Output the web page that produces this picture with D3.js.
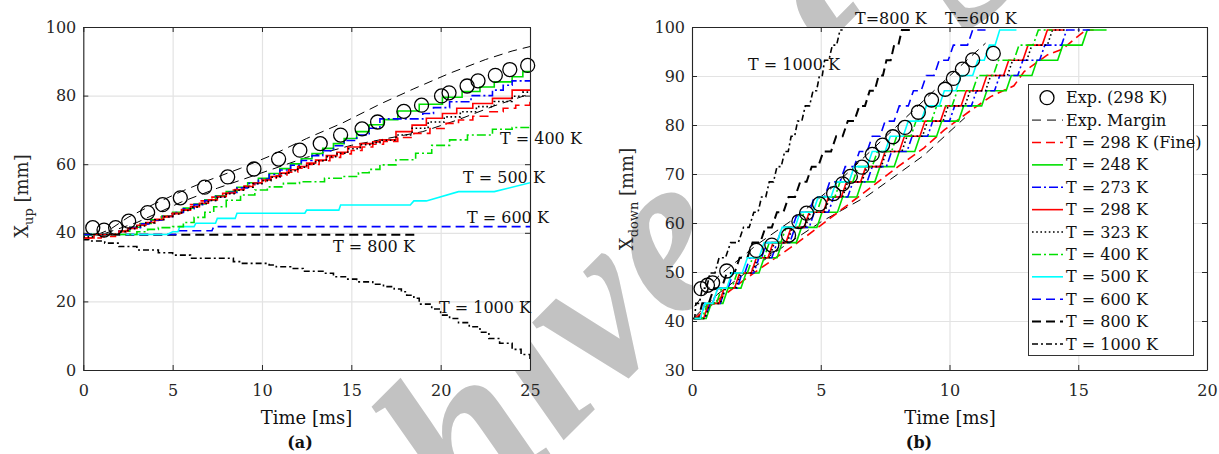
<!DOCTYPE html>
<html>
<head>
<meta charset="utf-8">
<script src="https://cdn.jsdelivr.net/npm/d3@7"></script>
<style>
  html, body { margin: 0; padding: 0; background: #fff; }
  svg { display: block; font-family: "DejaVu Serif", serif; }
</style>
</head>
<body>
<script>
// ---------- Panel (a): upstream flame position X_up vs time ----------
const aTicksX = [0, 5, 10, 15, 20, 25];
const aTicksY = [0, 20, 40, 60, 80, 100];

const aExpTime = [0.53,1.16,1.81,2.54,3.60,4.44,5.43,6.79,8.08,9.55,10.93,12.12,13.26,14.40,15.60,16.47,17.94,18.93,20.05,20.47,21.48,22.09,23.06,23.87,24.87];
const aExpVal  = [41.5,40.8,41.5,43.4,45.9,48.2,50.2,53.3,56.3,58.6,61.5,64.1,66.0,68.5,70.3,72.3,75.4,77.2,79.9,80.8,82.8,84.3,85.9,87.6,88.8];

const aMarginUpTime = [0.8,1.5,2.5,4.0,5.6,7.0,8.8,10.5,12.5,14.5,16.6,18.5,20.5,22.5,24.0,25];
const aMarginUpVal  = [39.5,41.0,44.5,48.5,52.3,55.3,58.8,62.5,67.5,72.0,77.5,82.0,86.5,90.5,93.0,94.3];
const aMarginLoTime = [1.2,3.0,5.5,7.5,10.0,12.5,15.0,17.0,19.0,21.0,23.0,25];
const aMarginLoVal  = [39.8,43.0,49.0,53.0,57.5,62.0,65.5,67.5,69.5,73.0,77.0,80.5];

const aFineTime = [0,1.0,1.8,2.4,3.0,3.6,4.2,4.8,5.4,6.0,6.6,7.2,7.8,8.4,9.0,9.6,10.2,10.8,11.4,12.0,12.6,13.2,13.8,14.4,15.0,15.6,16.2,16.8,17.6,18.5,19.4,20.3,21.0,21.8,22.7,23.5,24.2,25];
const aFineVal  = [38.5,38.9,40.3,41.5,42.6,43.6,44.6,45.6,46.8,48.2,49.3,50.4,51.5,52.5,53.6,54.6,55.6,56.6,57.7,58.8,59.9,61.0,62.0,63.0,64.0,65.0,65.8,66.6,67.8,69.0,70.4,71.9,72.9,74.0,75.3,76.3,77.2,78.2];

const a248Time = [0,2.0,2.6,3.2,3.8,4.4,5.0,5.6,6.2,6.8,7.4,8.0,8.6,9.2,9.8,10.4,11.0,11.6,12.2,12.8,13.4,14.0,14.6,15.3,16.0,16.8,17.6,18.8,20.1,21.2,22.2,23.0,24.0,24.6,25];
const a248Val  = [39.5,40.5,41.6,42.7,43.8,44.9,46.0,47.2,48.4,49.6,50.8,52.0,53.3,54.6,55.9,57.3,58.7,60.1,61.6,63.1,64.6,66.0,67.5,69.5,71.5,73.0,75.5,77.5,79.5,81.2,82.5,84.0,85.5,87.0,87.0];

const a273Time = [0,2.0,2.6,3.2,3.8,4.4,5.0,5.6,6.2,6.8,7.4,8.0,8.6,9.2,9.8,10.4,11.0,11.6,12.2,12.8,13.4,14.0,14.6,15.3,16.0,16.6,19.0,19.6,20.5,21.7,22.9,23.5,24.0,25];
const a273Val  = [39.5,40.5,41.5,42.6,43.7,44.8,45.9,47.0,48.2,49.4,50.6,51.8,53.1,54.4,55.7,57.0,58.3,59.7,61.1,62.5,63.9,65.4,66.9,68.5,70.5,73.2,74.8,76.5,78.2,80.0,81.6,83.0,84.3,84.3];

const a298Time = [0,0.6,2.0,2.5,3.0,3.5,4.0,4.5,5.0,5.5,6.0,6.5,7.0,7.5,8.0,8.5,9.0,9.5,10.0,10.5,11.0,11.5,12.0,12.5,13.0,13.6,14.2,14.8,15.5,16.2,16.6,17.5,18.4,19.2,20.1,20.9,21.8,22.9,24.0,25];
const a298Val  = [38.5,39.5,40.5,41.3,42.2,43.0,43.9,44.8,45.7,46.6,47.6,48.6,49.6,50.6,51.6,52.6,53.5,54.5,55.4,56.4,57.4,58.4,59.3,60.3,61.2,62.5,63.5,65.0,66.0,66.5,67.1,69.5,71.4,73.4,74.8,76.3,77.7,79.2,81.6,81.6];

const a323Time = [0,0.6,2.0,2.5,3.0,3.5,4.0,4.5,5.0,5.5,6.0,6.5,7.0,7.5,8.0,8.5,9.0,9.5,10.0,10.5,11.0,11.5,12.0,12.5,13.0,13.6,14.2,14.8,15.5,16.2,16.6,17.5,18.4,19.3,20.2,21.1,22.0,23.0,24.0,24.6,25];
const a323Val  = [38.8,39.5,40.3,41.2,42.0,42.9,43.8,44.7,45.5,46.5,47.5,48.5,49.4,50.4,51.4,52.4,53.3,54.3,55.2,56.2,57.2,58.1,59.1,60.0,61.0,62.2,63.2,64.5,65.7,66.3,67.0,68.5,70.5,72.3,73.8,75.3,76.8,78.3,79.8,81.0,81.0];

const a400Time = [0,3.0,3.6,4.2,5.0,5.6,6.2,6.8,7.3,8.0,8.8,9.6,10.3,11.2,12.1,13.5,14.5,15.4,16.0,16.6,17.5,18.6,19.5,20.5,21.5,22.9,24.0,25];
const a400Val  = [39.5,40.3,41.0,41.5,41.8,43.0,44.5,46.0,47.6,49.5,51.0,52.5,53.4,54.4,54.9,55.9,56.4,57.5,58.5,59.8,61.3,63.2,65.5,67.1,68.5,70.2,70.7,71.4];

const a500Time = [0,4.7,5.0,5.3,5.4,6.2,6.3,7.4,7.5,8.5,8.6,12.4,12.5,14.3,14.4,18.3,18.5,19.2,21.0,23.0,25];
const a500Val  = [39.5,39.5,40.3,40.3,41.8,41.8,42.8,42.8,44.2,44.2,45.7,45.7,46.6,46.6,48.1,48.1,49.3,49.3,52.0,52.0,54.6];

const a600Time = [0,5.2,5.25,7.2,7.3,25];
const a600Val  = [39.5,39.5,40.6,40.6,41.8,41.8];

const a800Time = [0,18.8];
const a800Val  = [39.4,39.4];

const a1000Time = [0,0.3,1.2,2.0,3.0,4.2,5.0,6.0,8.4,8.8,10.4,10.8,11.6,12.3,13.5,14.0,14.8,15.3,16.2,16.8,17.4,17.8,18.1,18.5,18.8,19.5,20.0,20.5,21.0,21.6,22.2,22.7,23.3,24.0,24.5,25];
const a1000Val  = [38.0,37.6,37.0,36.0,35.0,34.2,33.5,32.6,31.6,31.1,30.6,30.1,29.6,28.8,28.2,27.2,26.5,25.7,25.0,24.3,23.6,22.8,21.8,20.9,19.2,17.8,16.0,15.0,13.8,12.6,11.0,9.2,7.8,6.0,4.5,2.9];

// ---------- Panel (b): downstream flame position X_down vs time ----------
const bTicksX = [0, 5, 10, 15, 20];
const bTicksY = [30, 40, 50, 60, 70, 80, 90, 100];

const bExpTime = [0.35,0.6,0.8,1.35,2.5,3.1,3.75,4.15,4.45,4.95,5.5,5.85,6.15,6.6,7.0,7.4,7.8,8.27,8.79,9.3,9.83,10.15,10.5,10.9,11.7];
const bExpVal  = [46.6,47.3,47.8,50.2,54.4,55.5,57.5,60.3,62.0,63.9,66.0,68.0,69.5,71.4,74.0,75.9,77.6,79.5,82.6,85.1,87.3,89.5,91.4,93.3,94.6];

const bMarginUpTime = [0.1,1.0,2.5,4.0,5.5,7.0,8.5,10.0,11.4];
const bMarginUpVal  = [43.0,49.0,55.5,61.0,67.5,75.0,82.5,90.0,96.7];
const bMarginLoTime = [0.1,1.0,2.0,3.5,5.0,6.8,8.0,9.0,10.6];
const bMarginLoVal  = [40.8,45.5,49.5,55.0,60.2,65.5,70.0,73.8,81.5];

const bFineTime = [0.1,1.0,2.0,3.0,4.0,5.0,6.0,7.0,8.0,9.0,9.8,10.7,11.6,12.5,12.9,13.8,14.4,14.8,15.3,15.6];
const bFineVal  = [40.5,44.3,48.3,52.0,55.6,59.5,63.5,67.5,71.5,75.3,79.0,82.5,85.8,88.0,90.9,94.3,95.5,97.3,99.4,99.4];

// mesh-cell positions the coarse simulations jump between
const bLevels = [40.5,43.6,46.7,49.8,52.9,56.0,59.1,62.2,65.3,68.4,71.5,74.6,77.7,80.8,83.9,87.0,90.1,93.2,96.3,99.4];
// time [ms] at which each simulation reaches each level, and the time its record ends
const b248Reach  = [0.1,0.75,1.4,2.1,2.8,3.5,4.25,5.05,5.85,6.6,7.3,8.05,8.85,9.7,10.55,11.45,12.4,13.4,14.4,15.35];
const b273Reach  = [0.1,0.7,1.3,1.95,2.6,3.3,4.0,4.75,5.5,6.25,7.0,7.75,8.55,9.35,10.2,11.05,11.95,12.85,13.7,14.55];
const b298Reach  = [0.1,0.65,1.25,1.85,2.5,3.15,3.85,4.55,5.3,6.0,6.75,7.5,8.25,9.05,9.85,10.65,11.45,12.3,13.05,13.8];
const b323Reach  = [0.1,0.7,1.3,1.9,2.55,3.2,3.9,4.6,5.35,6.05,6.8,7.55,8.35,9.15,9.95,10.8,11.6,12.45,13.2,14.0];
const b400Reach  = [0.1,0.6,1.15,1.75,2.35,3.0,3.65,4.35,5.05,5.75,6.45,7.2,7.95,8.7,9.5,10.3,11.1,11.9,12.7,13.45];
const b500Reach  = [0.1,0.5,1.0,1.55,2.15,2.8,3.5,4.2,4.9,5.6,6.3,7.0,7.7,8.4,9.1,9.8,10.45,11.1,11.55,11.95];
const b600Reach  = [0.1,0.5,1.0,1.6,2.25,2.9,3.5,4.1,4.75,5.35,5.95,6.5,7.0,7.5,8.05,8.6,9.1,9.6,10.15,10.9];
const b800Reach  = [0.05,0.4,0.85,1.35,1.85,2.35,2.85,3.3,3.75,4.2,4.65,5.1,5.6,6.05,6.5,6.9,7.25,7.55,7.85,8.15];
const b1000Reach = [0.05,0.15,0.4,0.7,1.05,1.5,2.0,2.4,2.7,3.0,3.3,3.6,3.85,4.1,4.4,4.7,4.95,5.15,5.45,5.75];
const bEnd = {t248: 16.1, t273: 15.45, t298: 14.45, t323: 14.5, t400: 14.0, t500: 12.6, t600: 11.4, t800: 8.5, t1000: 5.85};

const legendLabels = ["Exp. (298 K)","Exp. Margin","T = 298 K (Fine)","T = 248 K","T = 273 K","T = 298 K","T = 323 K","T = 400 K","T = 500 K","T = 600 K","T = 800 K","T = 1000 K"];

// ---------- styles ----------
const GREEN = "#00e000", BLUE = "#0000ff", RED = "#ff0000", CYAN = "#00ffff", BLACK = "#000";
const DASH = "9,5", DASHDOT = "9,3,2,3", DOT = "1.6,2.6", DASHDOT2 = "6,3,2,3";
const style = {
  margin: {stroke: BLACK, w: 1.0, dash: "9,6"},
  fine:   {stroke: RED,   w: 1.6, dash: DASH},
  t248:   {stroke: GREEN, w: 1.6, dash: null},
  t273:   {stroke: BLUE,  w: 1.6, dash: DASHDOT},
  t298:   {stroke: RED,   w: 1.6, dash: null},
  t323:   {stroke: BLACK, w: 1.6, dash: DOT},
  t400:   {stroke: GREEN, w: 1.6, dash: DASHDOT},
  t500:   {stroke: CYAN,  w: 1.6, dash: null},
  t600:   {stroke: BLUE,  w: 1.6, dash: DASH},
  t800:   {stroke: BLACK, w: 2.0, dash: DASH},
  t1000:  {stroke: BLACK, w: 1.6, dash: DASHDOT2}
};

const W = 1219, H = 454;
const FONT = 16, TITLE = 18;
const svg = d3.select("body").append("svg").attr("width", W).attr("height", H);

// faint watermark lettering behind the axes
svg.append("text")
  .attr("transform", "translate(225,779) rotate(-45)")
  .attr("font-family", "Liberation Serif, serif")
  .attr("font-style", "italic")
  .attr("font-weight", "bold")
  .attr("font-size", 230)
  .attr("fill", "#c2c2c2")
  .text("Archive of SID");

const zip = (ts, vs) => ts.map((t, i) => [t, vs[i]]);

function makePanel(id, x, y, ticksX, ticksY) {
  const [x0, x1] = x.range(), [y0, y1] = y.range();
  const g = svg.append("g");
  g.append("rect").attr("x", x0).attr("y", y1).attr("width", x1 - x0).attr("height", y0 - y1).attr("fill", "#fff");
  // grid
  const grid = g.append("g").attr("class", "grid");
  grid.append("g").attr("transform", `translate(0,${y0})`)
    .call(d3.axisBottom(x).tickValues(ticksX).tickSize(-(y0 - y1)).tickFormat(""));
  grid.append("g").attr("transform", `translate(${x0},0)`)
    .call(d3.axisLeft(y).tickValues(ticksY).tickSize(-(x1 - x0)).tickFormat(""));
  grid.selectAll(".domain").remove();
  grid.selectAll("line").attr("stroke", "#e3e3e3").attr("stroke-width", 1.2);
  g.append("clipPath").attr("id", id).append("rect")
    .attr("x", x0).attr("y", y1).attr("width", x1 - x0).attr("height", y0 - y1);
  const plot = g.append("g").attr("clip-path", `url(#${id})`);
  const over = g.append("g");
  return {g, plot, over, x, y};
}

function drawAxes(p, ticksX, ticksY) {
  const {g, x, y} = p;
  const [x0, x1] = x.range(), [y0, y1] = y.range();
  const ax = g.append("g").attr("class", "axes");
  ax.append("g").attr("transform", `translate(0,${y0})`)
    .call(d3.axisBottom(x).tickValues(ticksX).tickSizeInner(-5).tickSizeOuter(0).tickPadding(15));
  ax.append("g").attr("transform", `translate(${x0},0)`)
    .call(d3.axisLeft(y).tickValues(ticksY).tickSizeInner(-5).tickSizeOuter(0).tickPadding(7));
  ax.append("g").attr("transform", `translate(0,${y1})`)
    .call(d3.axisTop(x).tickValues(ticksX).tickSizeInner(-5).tickSizeOuter(0).tickFormat(""));
  ax.append("g").attr("transform", `translate(${x1},0)`)
    .call(d3.axisRight(y).tickValues(ticksY).tickSizeInner(-5).tickSizeOuter(0).tickFormat(""));
  ax.selectAll(".domain").attr("stroke", "#262626").attr("stroke-width", 1.1);
  ax.selectAll(".tick line").attr("stroke", "#262626").attr("stroke-width", 1);
  ax.selectAll(".tick text").attr("font-family", "DejaVu Serif, serif").attr("font-size", FONT).attr("fill", "#262626");
}

function drawLine(p, pts, st, curve) {
  const line = d3.line().x(d => p.x(d[0])).y(d => p.y(d[1])).curve(curve || d3.curveLinear);
  p.plot.append("path").datum(pts)
    .attr("d", line)
    .attr("fill", "none")
    .attr("stroke", st.stroke)
    .attr("stroke-width", st.w)
    .attr("stroke-dasharray", st.dash)
    .attr("stroke-linejoin", "miter");
}

function drawCircles(p, pts) {
  p.over.append("g").selectAll("circle").data(pts).join("circle")
    .attr("cx", d => p.x(d[0])).attr("cy", d => p.y(d[1])).attr("r", 7)
    .attr("fill", "none").attr("stroke", "#000").attr("stroke-width", 1.3);
}

// staircase through the mesh levels: each level held until the next is reached, with a short riser
const RISER = 0.2;
function stairs(reach, endT) {
  const pts = [];
  reach.forEach((t, k) => {
    pts.push([t, bLevels[k]]);
    const nxt = reach[k + 1];
    pts.push([nxt === undefined ? endT : nxt - Math.min(RISER, 0.45 * (nxt - t)), bLevels[k]]);
  });
  return pts;
}

function label(txt, x, y, anchor, size, weight) {
  svg.append("text").attr("x", x).attr("y", y)
    .attr("text-anchor", anchor || "start")
    .attr("font-size", size || FONT)
    .attr("font-weight", weight || "normal")
    .attr("fill", "#111")
    .text(txt);
}

// ================= Panel (a) =================
const xa = d3.scaleLinear().domain([0, 25]).range([83.3, 530]);
const ya = d3.scaleLinear().domain([0, 100]).range([370, 27]);
const pa = makePanel("clipA", xa, ya, aTicksX, aTicksY);

drawLine(pa, zip(aMarginUpTime, aMarginUpVal), style.margin);
drawLine(pa, zip(aMarginLoTime, aMarginLoVal), style.margin);
drawLine(pa, zip(a1000Time, a1000Val), style.t1000, d3.curveStepAfter);
drawLine(pa, zip(a800Time, a800Val), style.t800);
drawLine(pa, zip(a600Time, a600Val), style.t600);
drawLine(pa, zip(a500Time, a500Val), style.t500);
drawLine(pa, zip(a400Time, a400Val), style.t400, d3.curveStepAfter);
drawLine(pa, zip(aFineTime, aFineVal), style.fine, d3.curveStepAfter);
drawLine(pa, zip(a248Time, a248Val), style.t248, d3.curveStepAfter);
drawLine(pa, zip(a273Time, a273Val), style.t273, d3.curveStepAfter);
drawLine(pa, zip(a298Time, a298Val), style.t298, d3.curveStepAfter);
drawLine(pa, zip(a323Time, a323Val), style.t323, d3.curveStepAfter);
drawAxes(pa, aTicksX, aTicksY);
drawCircles(pa, zip(aExpTime, aExpVal));

// ================= Panel (b) =================
const xb = d3.scaleLinear().domain([0, 20]).range([692, 1207]);
const yb = d3.scaleLinear().domain([30, 100]).range([370, 27]);
const pb = makePanel("clipB", xb, yb, bTicksX, bTicksY);

drawLine(pb, zip(bMarginUpTime, bMarginUpVal), style.margin);
drawLine(pb, zip(bMarginLoTime, bMarginLoVal), style.margin);
drawLine(pb, stairs(b1000Reach, bEnd.t1000), style.t1000);
drawLine(pb, stairs(b800Reach, bEnd.t800), style.t800);
drawLine(pb, stairs(b600Reach, bEnd.t600), style.t600);
drawLine(pb, zip(bFineTime, bFineVal), style.fine);
drawLine(pb, stairs(b248Reach, bEnd.t248), style.t248);
drawLine(pb, stairs(b273Reach, bEnd.t273), style.t273);
drawLine(pb, stairs(b298Reach, bEnd.t298), style.t298);
drawLine(pb, stairs(b323Reach, bEnd.t323), style.t323);
drawLine(pb, stairs(b400Reach, bEnd.t400), style.t400);
drawLine(pb, stairs(b500Reach, bEnd.t500), style.t500);
drawAxes(pb, bTicksX, bTicksY);
drawCircles(pb, zip(bExpTime, bExpVal));

// ---------- in-plot annotations ----------
label("T = 400 K", 500, 143.5);
label("T = 500 K", 463, 182.5);
label("T = 600 K", 467, 222.5);
label("T = 800 K", 333, 252);
label("T = 1000 K", 439, 313);
label("T=800 K", 855, 24);
label("T=600 K", 945, 24);
label("T = 1000 K", 748, 70);

// ---------- axis titles ----------
function yTitle(x, y, sub) {
  const t = svg.append("text").attr("transform", `translate(${x},${y}) rotate(-90)`)
    .attr("text-anchor", "middle").attr("font-size", TITLE).attr("fill", "#262626");
  t.append("tspan").text("X");
  t.append("tspan").attr("font-size", 13).attr("dy", 5).text(sub);
  t.append("tspan").attr("dy", -5).text(" [mm]");
}
yTitle(28, 196, "up");
yTitle(633, 199, "down");
label("Time [ms]", 306.5, 424, "middle", TITLE);
label("Time [ms]", 950, 424, "middle", TITLE);
label("(a)", 300, 448, "middle", FONT, "bold");
label("(b)", 919, 448, "middle", FONT, "bold");

// ---------- legend ----------
const legendStyles = [null, style.margin, style.fine, style.t248, style.t273, style.t298, style.t323, style.t400, style.t500, style.t600, style.t800, style.t1000];
const lg = svg.append("g");
lg.append("rect").attr("x", 1028.5).attr("y", 84.5).attr("width", 165).attr("height", 271)
  .attr("fill", "#fff").attr("stroke", "#333").attr("stroke-width", 1);
const rowY = d3.scaleLinear().domain([0, legendLabels.length - 1]).range([97.7, 344]);
legendLabels.forEach((lab, i) => {
  const yy = rowY(i);
  const st = legendStyles[i];
  if (st) {
    lg.append("line").attr("x1", 1032).attr("x2", 1063).attr("y1", yy).attr("y2", yy)
      .attr("stroke", st.stroke).attr("stroke-width", st.w).attr("stroke-dasharray", st.dash);
  } else {
    lg.append("circle").attr("cx", 1047).attr("cy", yy).attr("r", 7)
      .attr("fill", "none").attr("stroke", "#000").attr("stroke-width", 1.3);
  }
  lg.append("text").attr("x", 1066).attr("y", yy + 5.5).attr("font-size", FONT).attr("fill", "#111").text(lab);
});
</script>
</body>
</html>
